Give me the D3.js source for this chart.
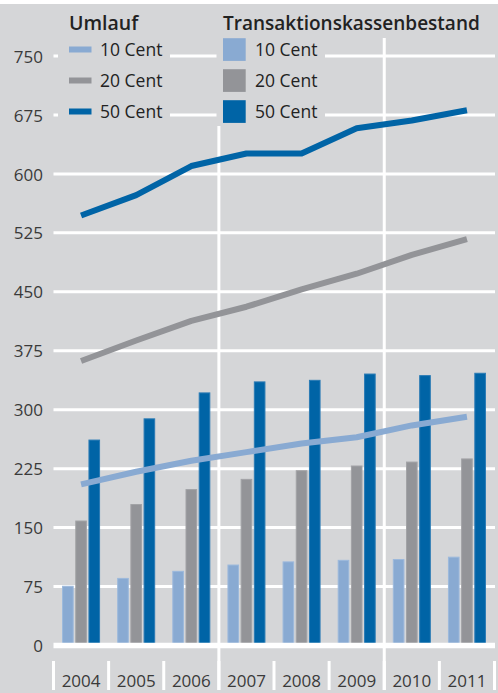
<!DOCTYPE html>
<html>
<head>
<meta charset="utf-8">
<script src="https://cdn.jsdelivr.net/npm/d3@7"></script>
<style>
  html, body { margin: 0; padding: 0; background: #fff; }
  svg { display: block; }
  text { font-family: "Open Sans", "Noto Sans", sans-serif; }
</style>
</head>
<body>
<svg id="chart" width="498" height="693"></svg>
<script>
// Münzen: Umlauf (Linien) und Transaktionskassenbestand (Säulen), Mio. Stück
const years = ["2004", "2005", "2006", "2007", "2008", "2009", "2010", "2011"];
const seriesNames = ["10 Cent", "20 Cent", "50 Cent"];
const umlauf10 = [205, 221, 235, 246, 257, 265, 280, 291];
const umlauf20 = [362, 388, 413, 431, 453, 473, 497, 517];
const umlauf50 = [547, 573, 610, 626, 626, 658, 668, 681];
const bestand10 = [76, 86, 95, 103, 107, 109, 110, 113];
const bestand20 = [159, 180, 199, 212, 223, 229, 234, 238];
const bestand50 = [262, 289, 322, 336, 338, 346, 344, 347];
const yTicks = [0, 75, 150, 225, 300, 375, 450, 525, 600, 675, 750];
const groupBreaks = ["2007", "2010"];

const colors = ["#89aad2", "#939498", "#0064a6"];
const strokeColors = ["#9cb9dc", "#a2a3a6", "#2a7bb5"];
const bg = "#d5d6d8";

const svg = d3.select("#chart");
const W = 498, H = 693;

const x = d3.scaleBand().domain(years).range([53.5, 494.5]).padding(0);
const y = d3.scaleLinear().domain([0, 750]).range([645.5, 56]);
const xInner = d3.scaleBand().domain(seriesNames).range([-19, 19]).paddingInner(0.12);

// background
svg.append("rect").attr("width", W).attr("height", H).attr("fill", "#fff");
svg.append("rect").attr("y", 4).attr("width", W).attr("height", H - 4).attr("fill", bg);

// horizontal grid lines
const yAxis = d3.axisLeft(y).tickValues(yTicks).tickSize(0).tickPadding(0);
svg.append("g").selectAll("line.grid").data(yTicks.filter(d => d > 0)).join("line")
  .attr("class", "grid")
  .attr("x1", 53.5).attr("x2", 495)
  .attr("y1", d => y(d)).attr("y2", d => y(d))
  .attr("stroke", "#fff").attr("stroke-width", 3);

// vertical group separators
svg.append("g").selectAll("line").data(groupBreaks).join("line")
  .attr("x1", d => x(d)).attr("x2", d => x(d))
  .attr("y1", 38).attr("y2", 690)
  .attr("stroke", "#fff").attr("stroke-width", 3);

// y tick labels
const gY = svg.append("g").attr("transform", "translate(43,0)").call(yAxis);
gY.select(".domain").remove();
gY.selectAll("text")
  .attr("font-family", "'Open Sans', 'Noto Sans', sans-serif")
  .attr("font-size", 17)
  .attr("fill", "#3a3a3a")
  .attr("dy", "0.36em")
  .attr("x", 0);

// bars
const bestand = [bestand10, bestand20, bestand50];
const barData = [];
years.forEach((yr, i) => {
  seriesNames.forEach((s, j) => barData.push({ yr, s, j, v: bestand[j][i] }));
});
svg.append("g").selectAll("rect").data(barData).join("rect")
  .attr("x", d => x(d.yr) + x.bandwidth() / 2 + xInner(d.s) + 0.5)
  .attr("y", d => y(d.v) + 0.5)
  .attr("width", xInner.bandwidth() - 1)
  .attr("height", d => y(0) - y(d.v))
  .attr("fill", d => colors[d.j])
  .attr("stroke", d => strokeColors[d.j])
  .attr("stroke-width", 1);

// base line
svg.append("line")
  .attr("x1", 53.5).attr("x2", 495)
  .attr("y1", y(0)).attr("y2", y(0))
  .attr("stroke", "#fff").attr("stroke-width", 5.5);

// x axis: tick separators and year labels
const xAxis = d3.axisBottom(x).tickSize(0).tickPadding(0);
const gX = svg.append("g").attr("transform", "translate(0,687)").call(xAxis);
gX.select(".domain").remove();
gX.selectAll("text")
  .attr("font-family", "'Open Sans', 'Noto Sans', sans-serif")
  .attr("font-size", 17)
  .attr("fill", "#3a3a3a")
  .attr("dy", 0)
  .attr("y", 0);
const bounds = years.map(d => x(d)).concat([x(years[years.length - 1]) + x.bandwidth()]);
svg.append("g").selectAll("line").data(bounds).join("line")
  .attr("x1", d => d).attr("x2", d => d)
  .attr("y1", 661).attr("y2", 690)
  .attr("stroke", "#fff").attr("stroke-width", 3);

// lines (Umlauf)
const umlauf = [umlauf10, umlauf20, umlauf50];
const line = d3.line()
  .x((d, i) => x(years[i]) + x.bandwidth() / 2)
  .y(d => y(d));
svg.append("g").selectAll("path").data(umlauf).join("path")
  .attr("d", d => line(d))
  .attr("fill", "none")
  .attr("stroke", (d, j) => colors[j])
  .attr("stroke-width", 6)
  .attr("stroke-linejoin", "round")
  .attr("stroke-linecap", "butt");

// legend
const leg = svg.append("g");
leg.append("rect").attr("x", 58).attr("y", 8).attr("width", 112).attr("height", 118).attr("fill", bg);
leg.append("rect").attr("x", 216.5).attr("y", 8).attr("width", 108.5).attr("height", 118).attr("fill", bg);
leg.append("rect").attr("x", 216.5).attr("y", 8).attr("width", 266).attr("height", 28).attr("fill", bg);

leg.append("text").attr("x", 69).attr("y", 30)
  .attr("font-size", 19.5).attr("font-weight", 600).attr("fill", "#222")
  .text("Umlauf");
leg.append("text").attr("x", 223).attr("y", 30)
  .attr("font-size", 19).attr("font-weight", 600).attr("fill", "#222")
  .text("Transaktionskassenbestand");

const rowY = [49.5, 80.5, 111.5];
seriesNames.forEach((s, j) => {
  leg.append("rect").attr("x", 69).attr("y", rowY[j] - 3).attr("width", 22.5).attr("height", 6)
    .attr("fill", colors[j]);
  leg.append("text").attr("x", 100).attr("y", rowY[j] + 6)
    .attr("font-size", 17.5).attr("fill", "#222").text(s);
  leg.append("rect").attr("x", 223).attr("y", rowY[j] - 11.3).attr("width", 22.7).attr("height", 22.7)
    .attr("fill", colors[j]);
  leg.append("text").attr("x", 255).attr("y", rowY[j] + 6)
    .attr("font-size", 17.5).attr("fill", "#222").text(s);
});
</script>
</body>
</html>
